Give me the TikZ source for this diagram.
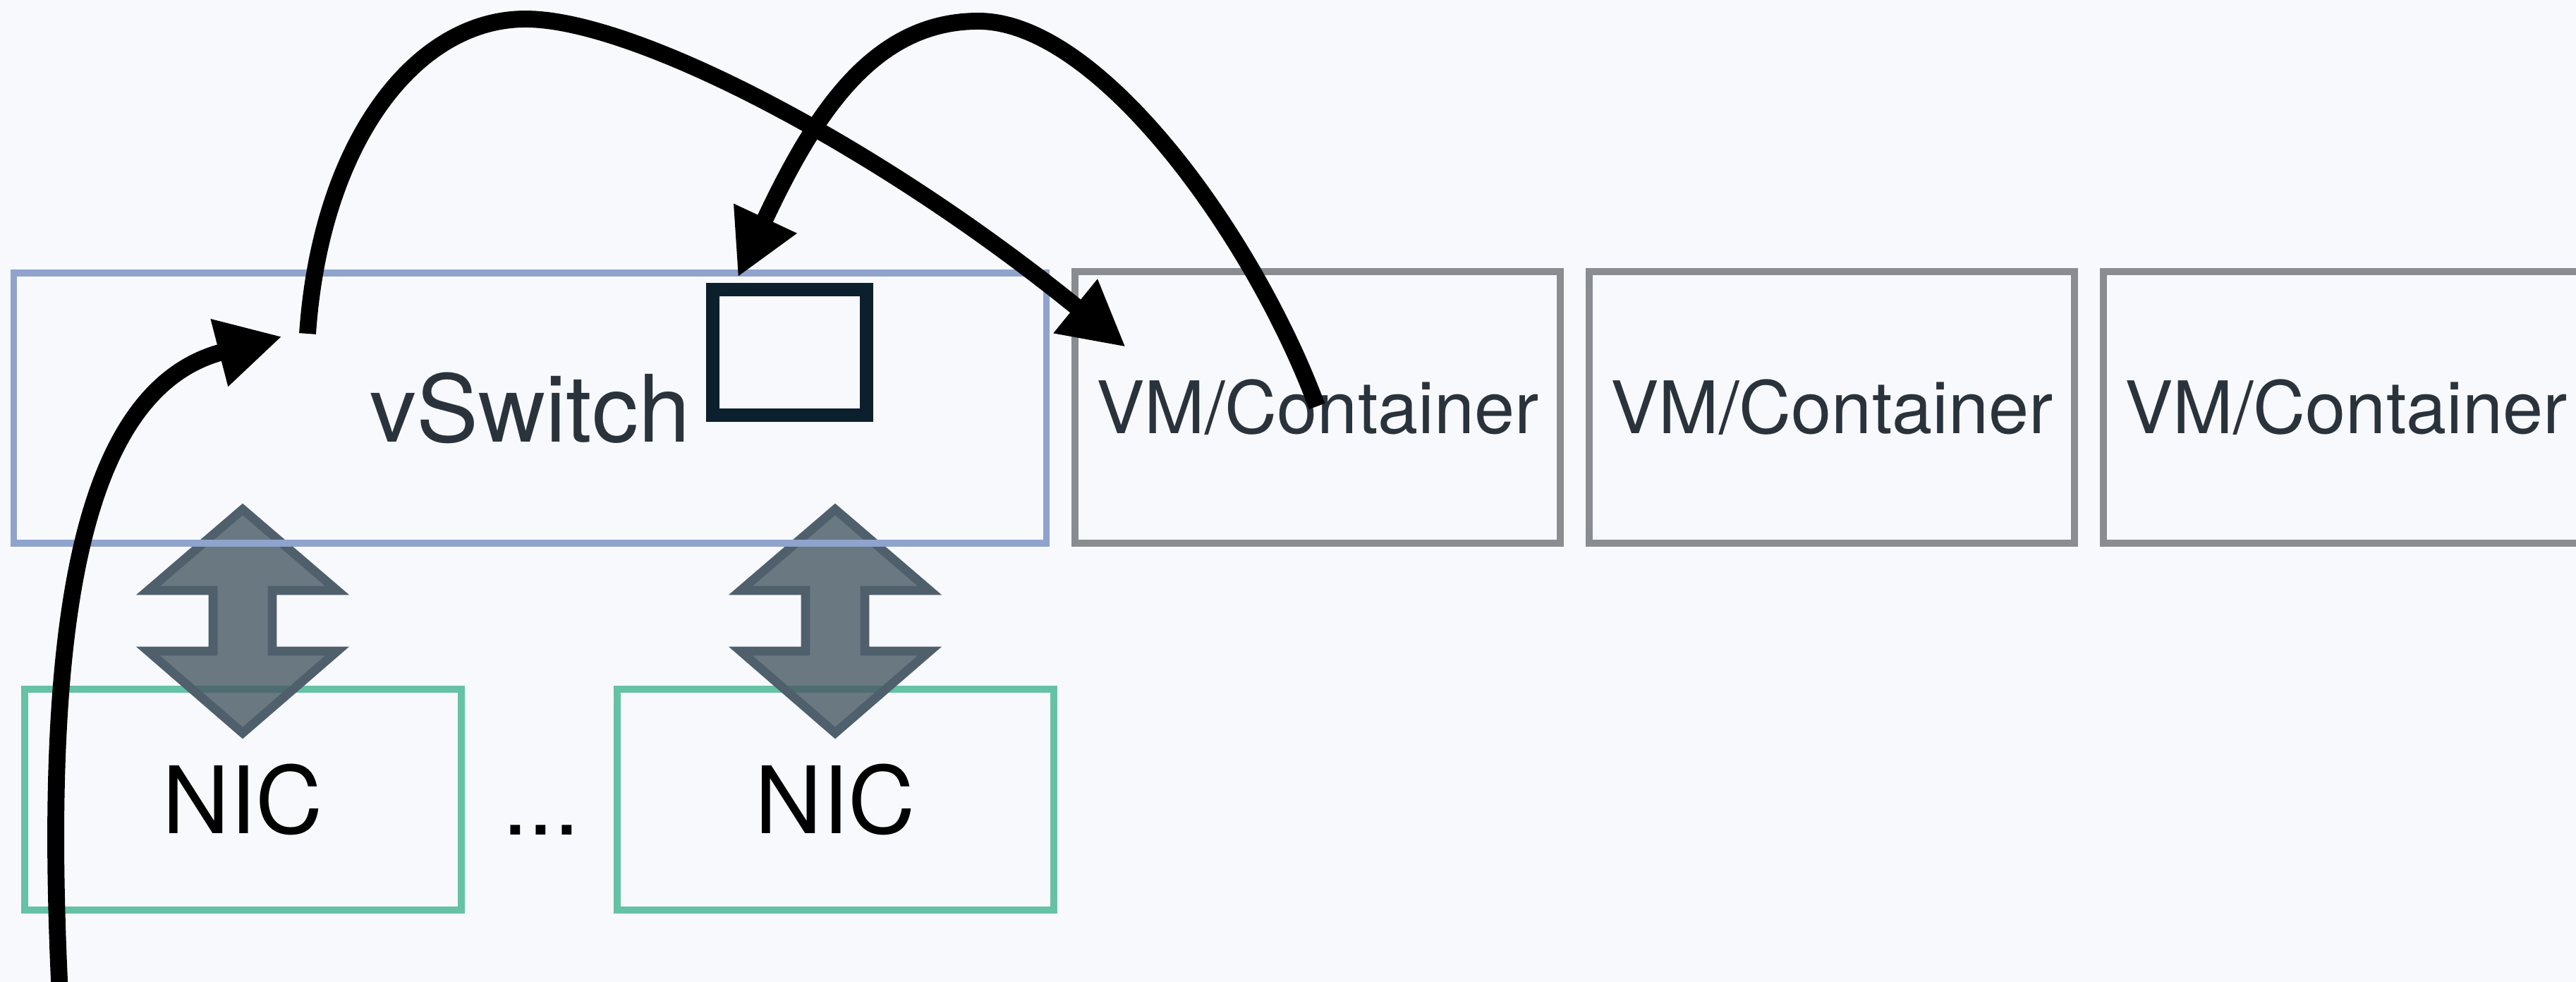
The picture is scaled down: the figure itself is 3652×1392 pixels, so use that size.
\documentclass[tikz,border=0pt]{standalone}
\usepackage{fontspec}
\setmainfont{TeX Gyre Heros}
\usetikzlibrary{arrows.meta}

\definecolor{canvas}{RGB}{247,249,253}
\definecolor{switchblue}{RGB}{143,163,205}
\definecolor{vmgray}{RGB}{137,140,144}
\definecolor{nicgreen}{RGB}{102,194,165}
\definecolor{portnavy}{RGB}{12,31,44}
\definecolor{labelgray}{RGB}{42,51,60}
\definecolor{linkfill}{RGB}{71,88,99}
\definecolor{linkedge}{RGB}{79,95,108}

\begin{document}
\begin{tikzpicture}[
  x=0.01cm, y=-0.01cm,
  bigtext/.style={font=\fontsize{37.5pt}{40pt}\selectfont},
  smalltext/.style={font=\fontsize{29.2pt}{32pt}\selectfont},
  swbox/.style={draw=switchblue, line width=2.7pt, inner sep=0pt, outer sep=0pt,
                minimum width=14.63cm, minimum height=3.83cm,
                bigtext, text=labelgray},
  vmbox/.style={draw=vmgray, line width=2.8pt, inner sep=0pt, outer sep=0pt,
                minimum width=6.87cm, minimum height=3.85cm,
                smalltext, text=labelgray},
  nicbox/.style={draw=nicgreen, line width=2.8pt, inner sep=0pt, outer sep=0pt,
                 minimum width=6.19cm, minimum height=3.13cm,
                 bigtext, text=black},
  portbox/.style={draw=portnavy, line width=5.4pt, inner sep=0pt, outer sep=0pt,
                  minimum width=2.17cm, minimum height=1.77cm},
  duplex/.style={draw=linkedge, line width=3.6pt, line join=miter,
                 fill=linkfill, fill opacity=0.8, draw opacity=1},
  flow/.style={draw=black, line width=6.8pt,
               -{Triangle[length=0.92cm, width=0.92cm]}},
]
% page background
\fill[canvas] (0,0) rectangle (3652,1392);
\useasboundingbox (0,0) rectangle (3652,1392);

% physical NICs
\node[nicbox] (nicA) at (344.5,1133.5) {NIC};
\node[nicbox] (nicB) at (1184.5,1133.5) {NIC};
\node[bigtext, anchor=base, inner sep=0pt] (dots) at (767,1183) {...};

% two-way links between NICs and the switch
\coordinate (linkA) at (344,880);
\coordinate (linkB) at (1184,880);
\foreach \c in {linkA,linkB}{
  \draw[duplex] (\c) ++(0,-158) -- ++(134,115) -- ++(-92,0) -- ++(0,86)
    -- ++(92,0) -- ++(-134,116) -- ++(-134,-116) -- ++(92,0)
    -- ++(0,-86) -- ++(-92,0) -- cycle;
}

% virtual switch and its port
\node[swbox] (vswitch) at (751.5,578.5) {vSwitch};
\node[portbox] (port) at (1119.5,499.5) {};

% guests
\node[vmbox] (vm1) at (1868,577.5) {VM/Container};
\node[vmbox] (vm2) at (2597,577.5) {VM/Container};
\node[vmbox] (vm3) at (3326,577.5) {VM/Container};

% packet path
\coordinate (inStart) at (85,1410);
\coordinate (inEnd) at (400,477);
\coordinate (upStart) at (436,473);
\coordinate (upPeak) at (745,27);
\coordinate (vmIn) at (1596,492);
\coordinate (vmOut) at (1867,576);
\coordinate (backPeak) at (1387,30);
\coordinate (portIn) at (1046,393);

\draw[flow] (inStart) .. controls (60,900) and (110,552) .. (inEnd);
\draw[flow] (vmOut) .. controls (1780,340) and (1560,30) .. (backPeak)
  .. controls (1240,30) and (1156,158) .. (portIn);
\draw[flow] (upStart) .. controls (455,200) and (590,27) .. (upPeak)
  .. controls (900,27) and (1247,208) .. (vmIn);
\end{tikzpicture}
\end{document}
